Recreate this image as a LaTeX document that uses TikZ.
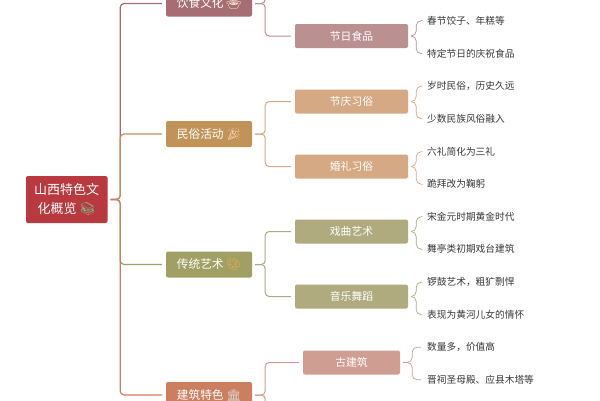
\documentclass[tikz,border=0pt]{standalone}
\usepackage{fontspec}
\setmainfont{Noto Sans CJK SC}
\newfontfamily\emojifont{Noto Emoji}
\usetikzlibrary{calc}
\definecolor{rootred}{HTML}{B93A3E}
\definecolor{foodmain}{HTML}{A66E72}
\definecolor{foodsub}{HTML}{BB9090}
\definecolor{folkmain}{HTML}{C29358}
\definecolor{folksub}{HTML}{D4A983}
\definecolor{artmain}{HTML}{A0A064}
\definecolor{artsub}{HTML}{AFAB7F}
\definecolor{archmain}{HTML}{CB7F5E}
\definecolor{archsub}{HTML}{CF9D91}
\definecolor{bookgreen}{HTML}{7FB58A}
\tikzset{
	boxnode/.style={rounded corners=2pt,text=white,inner sep=0pt,align=center},
	rootbox/.style={boxnode,fill=rootred,minimum width=81.5pt,minimum height=47pt,font=\fontsize{13}{18.5}\selectfont},
	mainbox/.style={boxnode,fill=#1,minimum width=86pt,minimum height=26pt,font=\fontsize{11.7}{14}\selectfont},
	subbox/.style={boxnode,fill=#1,minimum width=113pt,minimum height=24pt,font=\fontsize{10.8}{13}\selectfont},
	leafnode/.style={anchor=west,inner xsep=2pt,inner ysep=0pt,yshift=-0.7pt,text=black!78,font=\fontsize{9.7}{12}\selectfont},
	mainlink/.style={draw=#1,line width=1.2pt,rounded corners=4pt},
	sublink/.style={draw=#1,line width=1pt,rounded corners=4pt},
	leaflink/.style={draw=#1,line width=0.7pt,rounded corners=5pt}
}
\newcommand{\linkbranch}[4]{\draw[#1] ($(#2)+(3,0)$) -- ($(#2)+(#4,0)$) |- ($(#3)+(-4,0)$);}
\begin{document}
\begin{tikzpicture}[x=1pt,y=-1pt]
	\fill[white] (0,0) rectangle (600,400);
	\clip (0,0) rectangle (600,400);
	% root and first level
	\node[rootbox] (root) at (66.75,199.5) {山西特色文\\化概览 {\emojifont\textcolor{bookgreen}{📚}}};
	\node[mainbox=foodmain] (food) at (209,3.5) {饮食文化 {\emojifont\textcolor{white!85!orange}{🍲}}};
	\node[mainbox=folkmain] (folk) at (209,134) {民俗活动 {\emojifont\textcolor{white!70!orange}{🎉}}};
	\node[mainbox=artmain] (art) at (209,264.5) {传统艺术 {\emojifont\textcolor{orange!70!white}{🎨}}};
	\node[mainbox=archmain] (arch) at (209,395) {建筑特色 {\emojifont\textcolor{white!85!black}{🏛}}};
	% second level
	\coordinate (foodtop) at (295,-29);
	\node[subbox=foodsub] (feast) at (351.5,36) {节日食品};
	\node[subbox=folksub] (festival) at (351.5,101.5) {节庆习俗};
	\node[subbox=folksub] (wedding) at (351.5,166.5) {婚礼习俗};
	\node[subbox=artsub] (opera) at (351.5,231.5) {戏曲艺术};
	\node[subbox=artsub] (music) at (351.5,296.5) {音乐舞蹈};
	\node[subbox=archsub,minimum width=97pt] (oldhouse) at (351.5,362.5) {古建筑};
	\coordinate (archlow) at (295,428);
	% leaves
	\node[leafnode] (feasta) at (425,20) {春节饺子、年糕等};
	\node[leafnode] (feastb) at (425,53) {特定节日的庆祝食品};
	\node[leafnode] (festivala) at (425,85.5) {岁时民俗，历史久远};
	\node[leafnode] (festivalb) at (425,118) {少数民族风俗融入};
	\node[leafnode] (weddinga) at (425,151) {六礼简化为三礼};
	\node[leafnode] (weddingb) at (425,183.5) {跪拜改为鞠躬};
	\node[leafnode] (operaa) at (425,216) {宋金元时期黄金时代};
	\node[leafnode] (operab) at (425,248.5) {舞亭类初期戏台建筑};
	\node[leafnode] (musica) at (425,281.5) {锣鼓艺术，粗犷剽悍};
	\node[leafnode] (musicb) at (425,314) {表现为黄河儿女的情怀};
	\node[leafnode] (oldhousea) at (425,346.5) {数量多，价值高};
	\node[leafnode] (oldhouseb) at (425,379) {晋祠圣母殿、应县木塔等};
	% connectors
	\linkbranch{mainlink=foodmain}{root.east}{food.west}{12.5}
	\linkbranch{mainlink=folkmain}{root.east}{folk.west}{12.5}
	\linkbranch{mainlink=artmain}{root.east}{art.west}{12.5}
	\linkbranch{mainlink=archmain}{root.east}{arch.west}{12.5}
	\linkbranch{sublink=foodsub}{food.east}{foodtop}{13}
	\linkbranch{sublink=foodsub}{food.east}{feast.west}{13}
	\linkbranch{sublink=folksub}{folk.east}{festival.west}{13}
	\linkbranch{sublink=folksub}{folk.east}{wedding.west}{13}
	\linkbranch{sublink=artsub}{art.east}{opera.west}{13}
	\linkbranch{sublink=artsub}{art.east}{music.west}{13}
	\linkbranch{sublink=archsub}{arch.east}{oldhouse.west}{13}
	\linkbranch{sublink=archsub}{arch.east}{archlow}{13}
	\linkbranch{leaflink=foodsub}{feast.east}{feasta.west}{8}
	\linkbranch{leaflink=foodsub}{feast.east}{feastb.west}{8}
	\linkbranch{leaflink=folksub}{festival.east}{festivala.west}{8}
	\linkbranch{leaflink=folksub}{festival.east}{festivalb.west}{8}
	\linkbranch{leaflink=folksub}{wedding.east}{weddinga.west}{8}
	\linkbranch{leaflink=folksub}{wedding.east}{weddingb.west}{8}
	\linkbranch{leaflink=artsub}{opera.east}{operaa.west}{8}
	\linkbranch{leaflink=artsub}{opera.east}{operab.west}{8}
	\linkbranch{leaflink=artsub}{music.east}{musica.west}{8}
	\linkbranch{leaflink=artsub}{music.east}{musicb.west}{8}
	\linkbranch{leaflink=archsub}{oldhouse.east}{oldhousea.west}{12}
	\linkbranch{leaflink=archsub}{oldhouse.east}{oldhouseb.west}{12}
\end{tikzpicture}
\end{document}
